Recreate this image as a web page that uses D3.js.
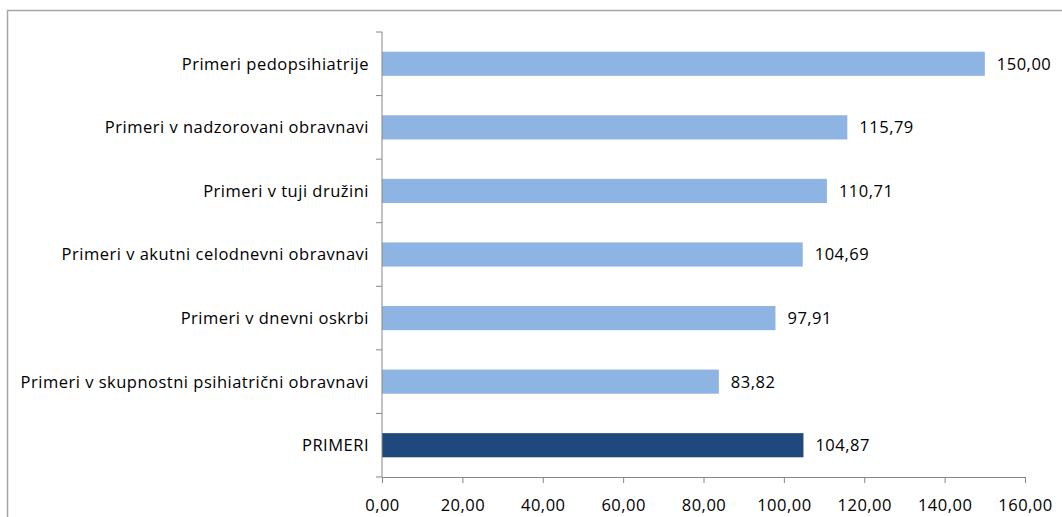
<!DOCTYPE html>
<html><head><meta charset="utf-8">
<script src="https://cdn.jsdelivr.net/npm/d3@7"></script>
<style>body{margin:0;background:#fff}svg{display:block}</style>
</head><body>
<svg id="c" width="1062" height="517"></svg>
<script>
const categories = ["Primeri pedopsihiatrije","Primeri v nadzorovani obravnavi","Primeri v tuji družini","Primeri v akutni celodnevni obravnavi","Primeri v dnevni oskrbi","Primeri v skupnostni psihiatrični obravnavi","PRIMERI"];
const values = [150.00,115.79,110.71,104.69,97.91,83.82,104.87];
const highlight = [false,false,false,false,false,false,true];
const xTicks = [0,20,40,60,80,100,120,140,160];

(function(){
const svg = d3.select("#c");
const font = "'Open Sans', sans-serif";
const fs = 16.5, ls = 0.5;
const fmt = v => v.toFixed(2).replace(".", ",");

svg.append("rect").attr("x",7.5).attr("y",10.5).attr("width",1080).attr("height",520)
  .attr("fill","none").attr("stroke","#a6a6a6").attr("stroke-width",1.5);

const pl=382, pr=1025, pt=32, pb=477;
const x = d3.scaleLinear().domain([0,160]).range([pl,pr]);
const y = d3.scaleBand().domain(categories).range([pt,pb]).paddingInner(0.62).paddingOuter(0.31);

svg.selectAll("rect.bar").data(categories).enter().append("rect").attr("class","bar")
  .attr("x",x(0)).attr("y",d=>y(d)).attr("height",y.bandwidth())
  .attr("width",(d,i)=>x(values[i])-x(0))
  .attr("fill",(d,i)=>highlight[i]?"#1F497D":"#8EB4E3");

svg.selectAll("text.val").data(categories).enter().append("text").attr("class","val")
  .attr("x",(d,i)=>x(values[i])+12).attr("y",d=>y(d)+y.bandwidth()/2).attr("dy","0.36em")
  .attr("font-family",font).attr("font-size",fs).attr("letter-spacing",ls).attr("fill","#000")
  .text((d,i)=>fmt(values[i]));

const xa = svg.append("g").attr("transform",`translate(0,${pb})`)
  .call(d3.axisBottom(x).tickValues(xTicks).tickFormat(fmt).tickSizeInner(6).tickSizeOuter(0).tickPadding(16));
xa.select(".domain").attr("stroke","#868686");
xa.selectAll(".tick line").attr("stroke","#868686");
xa.selectAll("text").attr("font-family",font).attr("font-size",fs).attr("letter-spacing",ls).attr("fill","#000");

const ya = svg.append("g").attr("transform",`translate(${pl},0)`);
ya.append("line").attr("x1",0).attr("x2",0).attr("y1",pt).attr("y2",pb).attr("stroke","#868686");
const bounds = d3.range(categories.length+1).map(i=>pt + i*(pb-pt)/categories.length);
ya.selectAll("line.t").data(bounds).enter().append("line").attr("class","t")
  .attr("x1",-6).attr("x2",0).attr("y1",d=>d).attr("y2",d=>d).attr("stroke","#868686");
ya.selectAll("text").data(categories).enter().append("text")
  .attr("x",-13).attr("y",d=>y(d)+y.bandwidth()/2).attr("dy","0.36em").attr("text-anchor","end")
  .attr("font-family",font).attr("font-size",fs).attr("letter-spacing",ls).attr("fill","#000").text(d=>d);
})();
</script>
</body></html>
